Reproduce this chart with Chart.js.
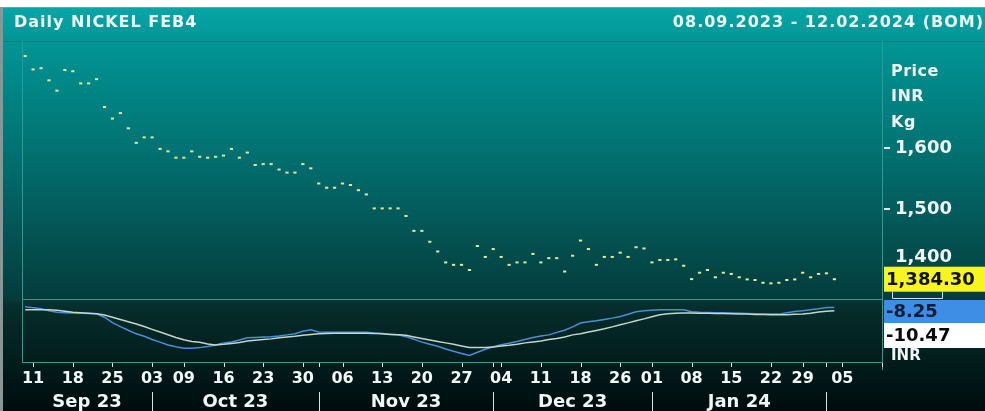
<!DOCTYPE html>
<html>
<head>
<meta charset="utf-8">
<script src="https://cdn.jsdelivr.net/npm/chart.js@4.4.1/dist/chart.umd.min.js"></script>
<style>
  html, body { margin: 0; padding: 0; background: #fff; }
</style>
</head>
<body>
<canvas id="myCanvas" width="985" height="411"></canvas>
<script>
// trading days shown on the time axis (last week is empty space)
const dates = [
  "2023-09-08", "2023-09-11", "2023-09-12", "2023-09-13", "2023-09-14", "2023-09-15",
  "2023-09-18", "2023-09-19", "2023-09-20", "2023-09-21", "2023-09-22",
  "2023-09-25", "2023-09-26", "2023-09-27", "2023-09-28", "2023-09-29",
  "2023-10-03", "2023-10-04", "2023-10-05", "2023-10-06",
  "2023-10-09", "2023-10-10", "2023-10-11", "2023-10-12", "2023-10-13",
  "2023-10-16", "2023-10-17", "2023-10-18", "2023-10-19", "2023-10-20",
  "2023-10-23", "2023-10-24", "2023-10-25", "2023-10-26", "2023-10-27",
  "2023-10-30", "2023-10-31", "2023-11-01", "2023-11-02", "2023-11-03",
  "2023-11-06", "2023-11-07", "2023-11-08", "2023-11-09", "2023-11-10",
  "2023-11-13", "2023-11-14", "2023-11-15", "2023-11-16", "2023-11-17",
  "2023-11-20", "2023-11-21", "2023-11-22", "2023-11-23", "2023-11-24",
  "2023-11-27", "2023-11-28", "2023-11-29", "2023-11-30", "2023-12-01",
  "2023-12-04", "2023-12-05", "2023-12-06", "2023-12-07", "2023-12-08",
  "2023-12-11", "2023-12-12", "2023-12-13", "2023-12-14", "2023-12-15",
  "2023-12-18", "2023-12-19", "2023-12-20", "2023-12-21", "2023-12-22",
  "2023-12-26", "2023-12-27", "2023-12-28", "2023-12-29",
  "2024-01-01", "2024-01-02", "2024-01-03", "2024-01-04", "2024-01-05",
  "2024-01-08", "2024-01-09", "2024-01-10", "2024-01-11", "2024-01-12",
  "2024-01-15", "2024-01-16", "2024-01-17", "2024-01-18", "2024-01-19",
  "2024-01-22", "2024-01-23", "2024-01-24", "2024-01-25",
  "2024-01-29", "2024-01-30", "2024-01-31", "2024-02-01", "2024-02-02",
  "2024-02-05", "2024-02-06", "2024-02-07", "2024-02-08", "2024-02-09",
  "2024-02-12"
];

const tickDates = [
  "2023-09-11", "2023-09-18", "2023-09-25", "2023-10-03", "2023-10-09", "2023-10-16",
  "2023-10-23", "2023-10-30", "2023-11-06", "2023-11-13", "2023-11-20", "2023-11-27",
  "2023-12-04", "2023-12-11", "2023-12-18", "2023-12-26", "2024-01-01", "2024-01-08",
  "2024-01-15", "2024-01-22", "2024-01-29", "2024-02-05"
];
const monthStarts = ["2023-10-03", "2023-11-01", "2023-12-01", "2024-01-01", "2024-02-01"];
const monthNames = ["Sep 23", "Oct 23", "Nov 23", "Dec 23", "Jan 24"];

// daily close, INR/kg
const price = [
  1752, 1730, 1732, 1712, 1695, 1729, 1727, 1707, 1707, 1714,
  1668, 1649, 1658, 1633, 1609, 1618, 1618, 1599, 1595, 1584.5,
  1584.5, 1595, 1586, 1584.5, 1586, 1588, 1599, 1584.5, 1593, 1572.5,
  1574, 1574, 1565, 1560, 1560, 1574, 1567, 1542, 1535, 1535,
  1542, 1539.5, 1531, 1524, 1501, 1501, 1501, 1501, 1488.5, 1464,
  1464, 1446, 1430, 1412, 1408, 1408, 1399.5, 1439, 1421, 1434,
  1421, 1408, 1412, 1412, 1426, 1412, 1419, 1419, 1397, 1423,
  1448, 1434, 1408, 1421, 1421, 1428, 1421, 1437, 1435, 1412,
  1416, 1416, 1417, 1406.5, 1384.5, 1395, 1399.5, 1387.5, 1395, 1393,
  1387.5, 1384, 1383, 1378.5, 1377.5, 1378.5, 1383, 1384, 1395, 1387.5,
  1393, 1394, 1384.30
];
const priceTicks = [1400, 1500, 1600];

// lower pane, INR
const lineBlue = [
  -7.7, -8.4, -9.1, -10.4, -11.5, -11.8, -12.0, -12.1, -12.3, -12.5,
  -14.8, -18.4, -21.1, -23.6, -26.0, -27.6, -29.8, -31.6, -33.5, -34.7,
  -35.7, -35.7, -35.3, -34.5, -33.5, -32.1, -31.5, -30.1, -28.7, -28.4,
  -28.1, -27.9, -27.4, -26.7, -26.0, -24.3, -23.3, -24.7, -24.9, -24.9,
  -24.9, -24.9, -24.9, -24.9, -25.4, -25.7, -26.2, -26.6, -27.9, -29.6,
  -31.6, -33.0, -34.4, -36.2, -37.8, -39.2, -40.6, -38.4, -36.4, -34.7,
  -33.3, -32.3, -31.2, -29.8, -28.5, -27.4, -26.7, -25.0, -23.6, -21.3,
  -18.7, -17.9, -17.2, -16.3, -15.4, -14.3, -12.8, -11.1, -10.4, -10.1,
  -9.8, -9.8, -9.8, -9.8, -11.1, -11.5, -11.6, -11.8, -11.8, -12.0,
  -12.1, -12.3, -12.5, -12.6, -12.7, -12.7, -11.8, -10.9, -10.4, -9.8,
  -9.1, -8.2, -8.25
];
const lineWhite = [
  -9.8, -9.8, -9.8, -9.8, -10.1, -10.8, -11.5, -11.8, -12.1, -12.5,
  -13.3, -14.8, -16.3, -17.8, -19.4, -21.1, -23.0, -24.8, -26.6, -28.5,
  -30.0, -31.1, -31.7, -32.8, -33.5, -33.1, -32.5, -31.8, -30.8, -30.3,
  -29.9, -29.4, -28.7, -28.1, -27.7, -27.0, -26.5, -26.0, -25.7, -25.6,
  -25.6, -25.6, -25.6, -25.6, -25.7, -26.0, -26.4, -26.7, -27.0, -28.1,
  -29.1, -30.1, -31.1, -32.1, -33.1, -34.2, -35.2, -35.3, -35.3, -34.8,
  -34.2, -33.7, -33.0, -32.1, -31.5, -30.8, -29.8, -29.1, -28.1, -26.7,
  -26.0, -24.7, -23.7, -22.6, -21.3, -19.9, -18.6, -17.2, -15.9, -14.5,
  -13.1, -12.5, -12.1, -12.0, -12.0, -12.1, -12.1, -12.2, -12.3, -12.5,
  -12.6, -12.7, -12.9, -13.0, -13.1, -13.1, -13.1, -12.8, -12.7, -12.1,
  -11.3, -10.8, -10.47
];

const FONT = "DejaVu Sans";
Chart.defaults.font.family = FONT;

const xy = (arr) => arr.map((v, i) => ({ x: i, y: v }));
const tickIdx = tickDates.map((d) => dates.indexOf(d));
const monthIdx = monthStarts.map((d) => dates.indexOf(d));
const lastIdx = dates.length - 1;
const axisIdx = [...new Set([...tickIdx, ...monthIdx, lastIdx])].sort((a, b) => a - b);

const fmt = (v, d) => v.toLocaleString("en-US", { minimumFractionDigits: d, maximumFractionDigits: d });

const background = {
  id: "background",
  beforeDraw(chart) {
    const ctx = chart.ctx;
    const a = chart.chartArea;
    const sep = chart.scales.y2.top;
    ctx.save();
    ctx.fillStyle = "#ffffff";
    ctx.fillRect(0, 0, 985, 411);
    const g = ctx.createLinearGradient(0, 7, 0, 411);
    g.addColorStop(0, "#07a6a8");
    g.addColorStop(0.09, "#019494");
    g.addColorStop(0.35, "#027272");
    g.addColorStop(0.72, "#043c3c");
    g.addColorStop(0.74, "#052e2c");
    g.addColorStop(0.88, "#021c1c");
    g.addColorStop(1, "#000c0d");
    ctx.fillStyle = g;
    ctx.fillRect(3, 7, 982, 404);
    ctx.fillStyle = "#8a9696";
    ctx.fillRect(0, 7, 3, 404);
    ctx.fillRect(0, 7, 985, 1);

    ctx.strokeStyle = "#0a7e7c";
    ctx.lineWidth = 1;
    ctx.beginPath();
    ctx.moveTo(3, a.top + 0.5); ctx.lineTo(985, a.top + 0.5);
    ctx.stroke();

    ctx.strokeStyle = "#2b9c94";
    ctx.beginPath();
    ctx.moveTo(a.left + 0.5, a.top); ctx.lineTo(a.left + 0.5, a.bottom);
    ctx.moveTo(a.right + 0.5, a.top); ctx.lineTo(a.right + 0.5, a.bottom + 8);
    ctx.moveTo(a.left, sep + 0.5); ctx.lineTo(a.right, sep + 0.5);
    ctx.moveTo(a.left, a.bottom + 0.5); ctx.lineTo(a.right, a.bottom + 0.5);
    ctx.stroke();

    // tick marks of both axes
    const x = chart.scales.x;
    const y = chart.scales.y;
    ctx.fillStyle = "#dbe8e6";
    axisIdx.forEach((i) => {
      ctx.fillRect(Math.round(x.getPixelForValue(i)), a.bottom + 1, 1, 4);
    });
    priceTicks.forEach((v) => {
      ctx.fillRect(a.right + 2, Math.round(y.getPixelForValue(v)) - 1, 6, 2);
    });
    ctx.restore();
  }
};

const labels = {
  id: "labels",
  afterDraw(chart) {
    const ctx = chart.ctx;
    const a = chart.chartArea;
    const x = chart.scales.x;
    const y = chart.scales.y;
    ctx.save();
    ctx.textBaseline = "middle";

    // header
    ctx.letterSpacing = "1px";
    ctx.font = `bold 16px ${FONT}`;
    ctx.fillStyle = "#eef7f5";
    ctx.textAlign = "left";
    ctx.fillText("Daily NICKEL FEB4", 14, 23);
    ctx.textAlign = "right";
    ctx.fillText("08.09.2023 - 12.02.2024 (BOM)", 984, 23);

    // unit block
    ctx.textAlign = "left";
    ctx.letterSpacing = "0.5px";
    ctx.fillText("Price", 891, 72);
    ctx.fillText("INR", 891, 97);
    ctx.fillText("Kg", 891, 123);
    ctx.letterSpacing = "0px";

    // 1,400 label is lifted above the last-price flag
    ctx.font = `bold 18px ${FONT}`;
    ctx.fillText(fmt(1400, 0), 895, y.getPixelForValue(1400) - 12);

    // last price flag
    const lp = price[price.length - 1];
    const ly = y.getPixelForValue(lp);
    ctx.fillStyle = "#f6f61c";
    ctx.fillRect(884, ly - 12.5, 101, 25);
    ctx.fillStyle = "#111";
    ctx.fillText(fmt(lp, 2), 886, ly + 1);
    ctx.strokeStyle = "#cfe4e2";
    ctx.lineWidth = 1;
    ctx.beginPath();
    ctx.moveTo(892.5, ly + 12.5); ctx.lineTo(892.5, 298.5);
    ctx.lineTo(942.5, 298.5); ctx.lineTo(942.5, ly + 12.5);
    ctx.stroke();

    // lower pane flags
    ctx.fillStyle = "#3f8ee6";
    ctx.fillRect(884, 300, 101, 23);
    ctx.fillStyle = "#0e1c3a";
    ctx.fillText(fmt(lineBlue[lineBlue.length - 1], 2), 886, 312);
    ctx.fillStyle = "#ffffff";
    ctx.fillRect(884, 323, 101, 25);
    ctx.fillStyle = "#0a0a0a";
    ctx.fillText(fmt(lineWhite[lineWhite.length - 1], 2), 886, 336);
    ctx.font = `bold 15px ${FONT}`;
    ctx.fillStyle = "#eef7f5";
    ctx.fillText("INR", 891, 356);

    // month row
    ctx.font = `bold 18px ${FONT}`;
    ctx.textAlign = "center";
    const bounds = [a.left, ...monthIdx.map((i) => x.getPixelForValue(i))];
    monthNames.forEach((m, k) => {
      ctx.fillText(m, (bounds[k] + bounds[k + 1]) / 2, 402);
    });
    ctx.strokeStyle = "#d6e4e2";
    ctx.beginPath();
    monthIdx.forEach((i) => {
      const px = Math.round(x.getPixelForValue(i)) + 0.5;
      ctx.moveTo(px, 392); ctx.lineTo(px, 411);
    });
    ctx.stroke();
    ctx.restore();
  }
};

new Chart(document.getElementById("myCanvas"), {
  type: "line",
  data: {
    datasets: [
      {
        label: "Price",
        data: xy(price),
        yAxisID: "y",
        showLine: false,
        pointStyle: "line",
        pointRadius: 1.6,
        pointBorderWidth: 2,
        pointBorderColor: "#dce89a",
        pointBackgroundColor: "#dce89a",
      },
      {
        label: "Slow",
        data: xy(lineWhite),
        yAxisID: "y2",
        borderColor: "#c6d4ca",
        borderWidth: 1.5,
        pointRadius: 0,
      },
      {
        label: "Fast",
        data: xy(lineBlue),
        yAxisID: "y2",
        borderColor: "#4a8fd6",
        borderWidth: 1.5,
        pointRadius: 0,
      },
    ],
  },
  options: {
    responsive: false,
    animation: false,
    devicePixelRatio: 1,
    events: [],
    layout: { padding: { left: 22, top: 41, right: 0, bottom: 19 } },
    plugins: { legend: { display: false }, tooltip: { enabled: false } },
    scales: {
      x: {
        type: "linear",
        min: -0.4,
        max: lastIdx,
        afterBuildTicks: (s) => { s.ticks = axisIdx.map((v) => ({ value: v })); },
        afterFit: (s) => { s.height = 30; },
        ticks: {
          autoSkip: false,
          maxRotation: 0,
          padding: 7,
          color: "#f2f8f6",
          font: { size: 16, weight: "bold" },
          callback: (v) => (tickIdx.includes(v) ? dates[v].slice(8) : ""),
        },
        grid: { display: false, drawTicks: false },
        border: { display: false },
      },
      y: {
        position: "right",
        stack: "panes",
        stackWeight: 258,
        min: 1351.7,
        max: 1776.8,
        afterBuildTicks: (s) => { s.ticks = priceTicks.map((v) => ({ value: v })); },
        afterFit: (s) => { s.width = 103; },
        ticks: {
          padding: 13,
          color: "#eef7f5",
          font: { size: 18, weight: "bold" },
          callback: (v) => (v === 1400 ? "" : fmt(v, 0)),
        },
        grid: { display: false, drawTicks: false },
        border: { display: false },
      },
      y2: {
        position: "right",
        stack: "panes",
        stackWeight: 63,
        min: -45,
        max: -2.5,
        afterFit: (s) => { s.width = 103; },
        ticks: { display: false },
        grid: { display: false, drawTicks: false },
        border: { display: false },
      },
    },
  },
  plugins: [background, labels],
});
</script>
</body>
</html>
